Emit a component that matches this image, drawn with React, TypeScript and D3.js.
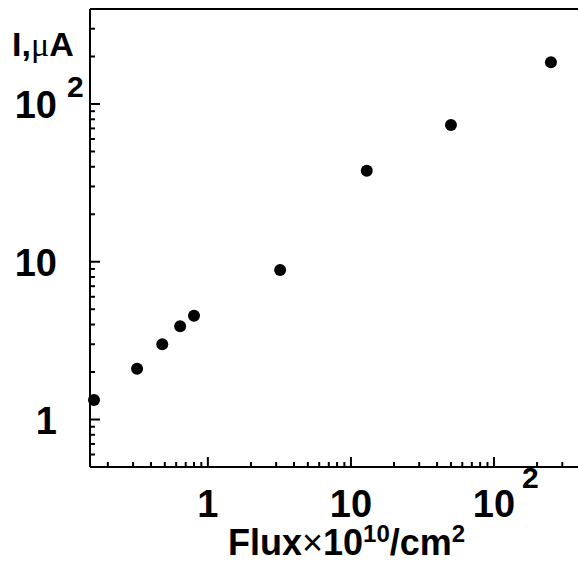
import React from "react";
import * as d3 from "d3";

const fluxValues = [0.16, 0.32, 0.48, 0.64, 0.8, 3.2, 12.9, 50, 250];
const currentValues = [1.33, 2.1, 3.0, 3.9, 4.55, 8.85, 37.8, 73.6, 184];
const xMajorTicks = [1, 10, 100];
const yMajorTicks = [1, 10, 100];
const xDomain = [0.15, 500];
const yDomain = [0.5, 400];

const W = 578;
const H = 563;
const left = 90;
const right = 594;
const top = 9;
const bottom = 467;
const FONT = "'Liberation Sans', Arial, Helvetica, sans-serif";

function minorTicks(lo: number, hi: number): number[] {
  const out: number[] = [];
  for (let e = -2; e <= 4; e++) {
    for (let m = 2; m <= 9; m++) {
      const v = m * Math.pow(10, e);
      if (v >= lo * 0.9999 && v <= hi * 1.0001) out.push(v);
    }
  }
  return out;
}

function expOf(v: number) {
  return Math.round(Math.log10(v));
}

export default function App() {
  const x = d3.scaleLog().domain(xDomain).range([left, right]);
  const y = d3.scaleLog().domain(yDomain).range([bottom, top]);
  const xMinor = minorTicks(xDomain[0], xDomain[1]);
  const yMinor = minorTicks(yDomain[0], yDomain[1]);
  const labelFs = 38;
  const expFs = 30;

  const renderXLabel = (v: number) => {
    const e = expOf(v);
    const px = x(v);
    if (e >= 2) {
      return (
        <g key={"xl" + v}>
          <text x={px} y={517} textAnchor="middle" fontSize={labelFs} fontWeight="bold" fontFamily={FONT}>10</text>
          <text x={px + 28} y={488} fontSize={expFs} fontWeight="bold" fontFamily={FONT}>{e}</text>
        </g>
      );
    }
    return (
      <text key={"xl" + v} x={px} y={517} textAnchor="middle" fontSize={labelFs} fontWeight="bold" fontFamily={FONT}>
        {String(v)}
      </text>
    );
  };

  const renderYLabel = (v: number) => {
    const e = expOf(v);
    const py = y(v);
    if (e >= 2) {
      return (
        <g key={"yl" + v}>
          <text x={57} y={py + 14} textAnchor="end" fontSize={labelFs} fontWeight="bold" fontFamily={FONT}>10</text>
          <text x={67} y={py - 7} fontSize={expFs} fontWeight="bold" fontFamily={FONT}>{e}</text>
        </g>
      );
    }
    return (
      <text key={"yl" + v} x={57} y={py + 14} textAnchor="end" fontSize={labelFs} fontWeight="bold" fontFamily={FONT}>
        {String(v)}
      </text>
    );
  };

  return (
    <svg width={W} height={H} style={{ position: "absolute", left: 0, top: 0, background: "#fff" }}>
      <rect x={0} y={0} width={W} height={H} fill="#fff" />
      {/* frame */}
      <line x1={left} y1={top} x2={W} y2={top} stroke="#000" strokeWidth={2} />
      <line x1={left} y1={top} x2={left} y2={bottom} stroke="#000" strokeWidth={2} />
      <line x1={left} y1={bottom} x2={W} y2={bottom} stroke="#000" strokeWidth={2} />
      {/* x ticks */}
      {xMinor.map((v) => (
        <line key={"xm" + v} x1={x(v)} x2={x(v)} y1={bottom} y2={bottom - 5} stroke="#000" strokeWidth={2} />
      ))}
      {xMajorTicks.map((v) => (
        <line key={"xM" + v} x1={x(v)} x2={x(v)} y1={bottom} y2={bottom - 10} stroke="#000" strokeWidth={2} />
      ))}
      {/* y ticks */}
      {yMinor.map((v) => (
        <line key={"ym" + v} x1={left} x2={left + 5} y1={y(v)} y2={y(v)} stroke="#000" strokeWidth={2} />
      ))}
      {yMajorTicks.map((v) => (
        <line key={"yM" + v} x1={left} x2={left + 10} y1={y(v)} y2={y(v)} stroke="#000" strokeWidth={2} />
      ))}
      {xMajorTicks.map(renderXLabel)}
      {yMajorTicks.map(renderYLabel)}
      {/* points */}
      {fluxValues.map((f, i) => (
        <circle key={"p" + i} cx={x(f)} cy={y(currentValues[i])} r={6} fill="#000" />
      ))}
      {/* axis titles */}
      <text x={12} y={56} fontSize={34} fontWeight="bold" fontFamily={FONT}>
        I,<tspan fontFamily="'Liberation Serif', 'DejaVu Serif', serif" fontWeight="normal">μ</tspan>A
      </text>
      <text x={228} y={555} fontSize={36} fontWeight="bold" fontFamily={FONT}>
        Flux<tspan fontWeight="normal">×</tspan>10
        <tspan dy={-13} fontSize={24}>10</tspan>
        <tspan dy={13}>/cm</tspan>
        <tspan dy={-13} fontSize={24}>2</tspan>
      </text>
    </svg>
  );
}
